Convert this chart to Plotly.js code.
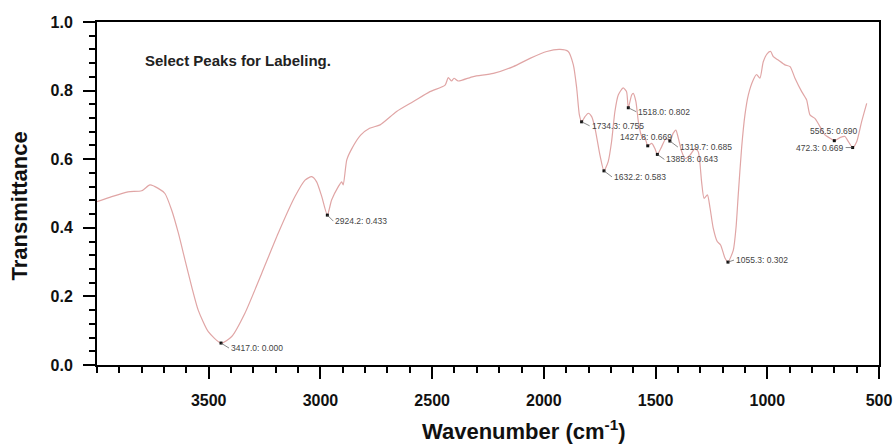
<!DOCTYPE html>
<html>
<head>
<meta charset="utf-8">
<script src="https://cdn.plot.ly/plotly-3.0.1.min.js"></script>
<style>
  html, body { margin: 0; padding: 0; background: #ffffff; }
  #chart { width: 895px; height: 447px; }
</style>
</head>
<body>
<div id="chart"></div>
<script>
// ---- Data ----
const wavenumber = [4000, 3934, 3861, 3800, 3763, 3726, 3696, 3666, 3636, 3606, 3576, 3547, 3502, 3445, 3397, 3338, 3263, 3189, 3114, 3069, 3039, 3017, 2994, 2969, 2950, 2920, 2905, 2898, 2882, 2860, 2820, 2780, 2733, 2659, 2584, 2510, 2442, 2428, 2413, 2402, 2383, 2316, 2226, 2137, 2062, 1987, 1928, 1891, 1868, 1853, 1841, 1831, 1816, 1801, 1786, 1771, 1749, 1731, 1712, 1697, 1682, 1667, 1645, 1630, 1622, 1607, 1600, 1588, 1577, 1562, 1547, 1535, 1517, 1503, 1492, 1473, 1453, 1436, 1421, 1409, 1398, 1383, 1368, 1346, 1324, 1309, 1294, 1283, 1268, 1256, 1242, 1224, 1209, 1189, 1176, 1152, 1140, 1130, 1115, 1100, 1085, 1063, 1048, 1033, 1018, 1000, 985, 973, 951, 921, 898, 876, 846, 824, 809, 787, 764, 742, 719, 700, 675, 652, 637, 618, 600, 578, 555];
const transmittance = [0.476, 0.491, 0.505, 0.508, 0.525, 0.515, 0.500, 0.452, 0.385, 0.306, 0.228, 0.160, 0.097, 0.064, 0.083, 0.151, 0.267, 0.384, 0.491, 0.539, 0.549, 0.534, 0.491, 0.437, 0.481, 0.520, 0.534, 0.525, 0.598, 0.630, 0.670, 0.690, 0.700, 0.739, 0.768, 0.797, 0.816, 0.838, 0.828, 0.836, 0.828, 0.841, 0.850, 0.870, 0.894, 0.914, 0.920, 0.914, 0.875, 0.807, 0.729, 0.709, 0.724, 0.734, 0.724, 0.690, 0.612, 0.566, 0.593, 0.651, 0.739, 0.787, 0.808, 0.797, 0.750, 0.787, 0.792, 0.768, 0.709, 0.666, 0.661, 0.639, 0.646, 0.631, 0.614, 0.636, 0.661, 0.653, 0.676, 0.685, 0.661, 0.622, 0.602, 0.612, 0.631, 0.622, 0.534, 0.486, 0.496, 0.457, 0.399, 0.360, 0.350, 0.311, 0.300, 0.335, 0.400, 0.496, 0.632, 0.729, 0.787, 0.831, 0.847, 0.836, 0.884, 0.908, 0.914, 0.899, 0.889, 0.875, 0.870, 0.836, 0.797, 0.773, 0.729, 0.719, 0.695, 0.671, 0.661, 0.654, 0.663, 0.666, 0.651, 0.634, 0.651, 0.709, 0.763];

const peakWavenumber = [3445, 2969, 1831, 1731, 1622, 1535, 1492, 1436, 1176, 700, 618];
const peakTransmittance = [0.064, 0.437, 0.709, 0.566, 0.750, 0.639, 0.614, 0.653, 0.300, 0.654, 0.634];
const peakLabels = ["3417.0: 0.000", "2924.2: 0.433", "1734.3: 0.755", "1632.2: 0.583", "1518.0: 0.802", "1427.8: 0.669", "1385.8: 0.643", "1319.7: 0.685", "1055.3: 0.302", "556.5: 0.690", "472.3: 0.669"];

const xTickValues = [3500, 3000, 2500, 2000, 1500, 1000, 500];
const yTickValues = [0, 0.2, 0.4, 0.6, 0.8, 1.0];

// ---- Label placement (styling only) ----
const labelPlacement = [
  {ax: 8, ay: 5, anchor: 'left', arrow: true},
  {ax: 6, ay: 6, anchor: 'left', arrow: true},
  {ax: 8, ay: 4, anchor: 'left', arrow: true},
  {ax: 8, ay: 6, anchor: 'left', arrow: true},
  {ax: 8, ay: 4, anchor: 'left', arrow: true},
  {ax: -2, ay: -9, anchor: 'center', arrow: false},
  {ax: 7, ay: 5, anchor: 'left', arrow: true},
  {ax: 8, ay: 6, anchor: 'left', arrow: true},
  {ax: 6, ay: -2, anchor: 'left', arrow: true},
  {ax: 0, ay: -10, anchor: 'center', arrow: false},
  {ax: -7, ay: 0, anchor: 'right', arrow: true}
];

const FONT = 'Liberation Sans, Arial, Helvetica, sans-serif';

const traces = [
  {
    type: 'scatter', mode: 'lines',
    x: wavenumber, y: transmittance,
    line: {color: 'rgb(224,165,165)', width: 1.2, shape: 'spline', smoothing: 0.6},
    hoverinfo: 'x+y'
  },
  {
    type: 'scatter', mode: 'markers',
    x: peakWavenumber, y: peakTransmittance,
    marker: {symbol: 'square', size: 3, color: '#111'},
    hoverinfo: 'text', text: peakLabels
  }
];

const annotations = peakLabels.map((txt, i) => {
  const p = labelPlacement[i];
  const a = {
    xref: 'x', yref: 'y',
    x: peakWavenumber[i], y: peakTransmittance[i],
    text: txt,
    font: {family: FONT, size: 8.5, color: '#444'},
    xanchor: p.anchor, yanchor: 'middle'
  };
  if (p.arrow) {
    Object.assign(a, {showarrow: true, ax: p.ax, ay: p.ay, arrowhead: 0, arrowwidth: 0.7, arrowcolor: '#555', standoff: 0, startstandoff: 0});
  } else {
    Object.assign(a, {showarrow: false, xshift: p.ax, yshift: -p.ay});
  }
  return a;
});

annotations.push(
  {xref: 'paper', yref: 'paper', x: 0.0588, y: 0.889, xanchor: 'left', yanchor: 'middle', showarrow: false,
   text: 'Select Peaks for Labeling.', font: {family: FONT, size: 15, color: '#222', weight: 'bold'}},
  {xref: 'paper', yref: 'paper', x: 0.546, y: -0.236, xanchor: 'center', yanchor: 'bottom', showarrow: false,
   text: 'Wavenumber (cm<sup>-1</sup>)', font: {family: FONT, size: 22, color: '#111', weight: 'bold'}},
  {xref: 'paper', yref: 'paper', x: -0.0985, y: 0.465, xanchor: 'center', yanchor: 'middle', showarrow: false, textangle: -90,
   text: 'Transmittance', font: {family: FONT, size: 22, color: '#111', weight: 'bold'}}
);

const layout = {
  width: 895, height: 447,
  margin: {l: 97, r: 16, t: 22, b: 82, pad: 0},
  paper_bgcolor: '#ffffff', plot_bgcolor: '#ffffff',
  showlegend: false,
  xaxis: {
    range: [4000, 500],
    showline: true, linewidth: 2, linecolor: '#000', mirror: true,
    ticks: 'outside', ticklen: 12, tickwidth: 2, tickcolor: '#000',
    tickmode: 'array', tickvals: xTickValues, ticktext: xTickValues.map(String),
    tickfont: {family: FONT, size: 16, color: '#111', weight: 'bold'},
    ticklabelstandoff: 8,
    showgrid: false, zeroline: false,
    minor: {ticks: 'outside', ticklen: 6, tickwidth: 2, tickcolor: '#000', dtick: 100, showgrid: false}
  },
  yaxis: {
    range: [0, 1],
    showline: true, linewidth: 2, linecolor: '#000', mirror: true,
    ticks: 'outside', ticklen: 12, tickwidth: 2, tickcolor: '#000',
    tickmode: 'array', tickvals: yTickValues, ticktext: yTickValues.map(v => v.toFixed(1)),
    tickfont: {family: FONT, size: 16, color: '#111', weight: 'bold'},
    ticklabelstandoff: 7,
    showgrid: false, zeroline: false,
    minor: {ticks: 'outside', ticklen: 6, tickwidth: 2, tickcolor: '#000', dtick: 0.04, showgrid: false}
  },
  annotations: annotations
};

Plotly.newPlot('chart', traces, layout, {displayModeBar: false, staticPlot: true});
</script>
</body>
</html>
